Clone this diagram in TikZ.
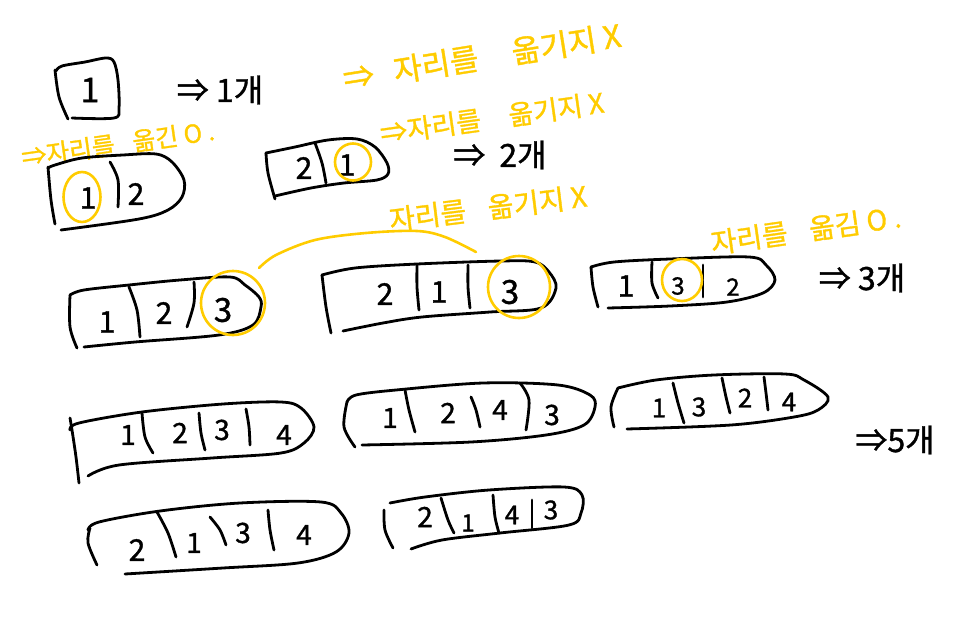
\documentclass[tikz,border=0pt]{standalone}
\usepackage{fontspec}
\setmainfont{Noto Sans CJK KR}
\newfontfamily\handfont[FakeBold=1.2]{Noto Sans CJK KR}
\definecolor{marker}{HTML}{FFCC00}
\tikzset{
  ink/.style={draw=black,line width=2.8pt,line cap=round,line join=round},
  hl/.style={draw=marker,line width=2.6pt,line cap=round,line join=round},
  dig/.style={inner sep=0pt,text=black,font=\handfont\fontsize{#1}{#1}\selectfont},
  dig/.default=30,
  count/.style={inner sep=0pt,text=black,font=\handfont\fontsize{32}{32}\selectfont},
  note/.style={inner sep=0pt,text=marker,font=\handfont\fontsize{#1}{#1}\selectfont},
}
\newcommand{\hand}[2][ink]{\draw[#1] plot[smooth,tension=.55] coordinates {#2};}
\begin{document}
\begin{tikzpicture}[x=1pt,y=-1pt]
\useasboundingbox (0,0) rectangle (971,626);
\fill[white] (0,0) rectangle (971,626);

% one cell
\hand{(56,71)(62,66)(85,62)(106,58)(114,62)(118,80)(119,108)(114,118)(72,118)}
\hand{(55,70)(59,97)(68,119)}
\node[dig=34] (n1) at (90,90) {1};
\node[count] (c1) at (220,90) {⇒ 1개};

% yellow notes
\node[note=31,rotate=9] (y1) at (482,57) {⇒\hspace{20pt}자리를\hspace{34pt}옮기지 X};
\node[note=27,rotate=8] (y2) at (492,118) {⇒자리를\hspace{28pt}옮기지 X};
\node[note=25,rotate=8] (y3) at (118,144) {⇒자리를\hspace{18pt}옮긴 O .};
\node[note=28,rotate=7] (y4) at (488,208) {자리를\hspace{22pt}옮기지 X};
\node[note=28,rotate=8] (y5) at (806,230) {자리를\hspace{22pt}옮김 O .};

% 1 2
\hand{(48,167)(51,200)(55,224)}
\hand{(48,168)(55,165)(82,158)(123,155)(156,154)(172,162)(184,180)(182,197)(168,210)(139,219)(61,230)}
\hand{(110,162)(118,180)(118,207)}
\node[dig] (n12a) at (88,198) {1};
\node[dig] (n12b) at (136,194) {2};
\draw[hl] (82,197) ellipse [x radius=18.5,y radius=25];

% 2 1
\hand{(266,153)(268,173)(275,199)}
\hand{(266,153)(295,147)(328,140)(357,139)(375,147)(387,163)(388,174)(377,180)(344,183)(311,188)(275,196)}
\hand{(315,143)(322,163)(326,183)}
\node[dig] (n21a) at (304,168) {2};
\node[dig] (n21b) at (347,165) {1};
\draw[hl] (353,162) ellipse [x radius=18,y radius=18.5];
\node[count] (c2) at (500,155) {⇒\hspace{14pt}2개};

% 1 2 3
\hand{(70,295)(70,327)(77,348)}
\hand{(70,295)(84,290)(129,285)(180,280)(230,277)(245,285)(259,297)(261,307)(253,325)(219,335)(135,342)(84,347)}
\hand{(129,287)(137,310)(140,337)}
\hand{(194,282)(194,303)(187,327)}
\node[dig] (n123a) at (107,322) {1};
\node[dig] (n123b) at (164,313) {2};
\node[dig=33] (n123c) at (223,310) {3};
\draw[hl] (233,303) ellipse [x radius=32,y radius=32];
\hand[hl]{(259,268)(276,255)(315,240)(366,233)(417,231)(445,237)(476,252)}

% 2 1 3
\hand{(322,275)(326,307)(331,333)}
\hand{(322,275)(355,268)(417,264)(501,261)(535,262)(549,272)(556,288)(541,308)(490,312)(422,317)(383,323)(343,331)}
\hand{(417,265)(417,287)(419,310)}
\hand{(468,265)(468,287)(470,308)}
\node[dig] (n213a) at (385,294) {2};
\node[dig] (n213b) at (439,292) {1};
\node[dig=33] (n213c) at (510,292) {3};
\draw[hl] (519,287) ellipse [x radius=31,y radius=31];

% 1 3 2
\hand{(591,267)(593,287)(598,307)}
\hand{(591,267)(614,262)(670,259)(749,257)(766,265)(775,280)(763,293)(727,302)(670,306)(608,308)}
\hand{(652,262)(652,283)(658,298)}
\hand{(703,265)(703,283)(703,297)}
\node[dig=30] (n132a) at (626,286) {1};
\node[dig=24] (n132b) at (678,286) {3};
\node[dig=24] (n132c) at (733,287) {2};
\draw[hl] (682,280) ellipse [x radius=20,y radius=21];
\node[count] (c3) at (862,278) {⇒ 3개};

% 1 2 3 4
\hand{(70,418)(72,430)(76,457)(79,483)}
\hand{(70,430)(79,423)(142,412)(223,404)(281,402)(301,408)(314,427)(304,443)(281,453)(212,458)(119,465)(88,476)}
\hand{(142,413)(145,437)(153,453)}
\hand{(199,413)(201,433)(205,450)}
\hand{(246,409)(249,427)(250,445)}
\node[dig=28] (n1234a) at (128,435) {1};
\node[dig=28] (n1234b) at (180,433) {2};
\node[dig=28] (n1234c) at (222,430) {3};
\node[dig=28] (n1234d) at (284,435) {4};

% 1 2 4 3
\hand{(347,402)(344,427)(355,447)}
\hand{(347,402)(356,395)(396,390)(483,383)(558,385)(590,395)(595,407)(584,425)(546,435)(471,442)(362,445)}
\hand{(405,390)(409,410)(415,432)}
\hand{(471,397)(476,410)(480,427)}
\hand{(520,383)(529,400)(526,430)}
\node[dig=28] (n1243a) at (390,418) {1};
\node[dig=28] (n1243b) at (448,413) {2};
\node[dig=28] (n1243c) at (500,410) {4};
\node[dig=28] (n1243d) at (552,415) {3};

% 1 3 2 4
\hand{(618,388)(611,407)(614,427)}
\hand{(618,388)(656,380)(714,375)(785,374)(804,380)(828,397)(818,410)(794,417)(731,425)(627,429)}
\hand{(673,383)(678,403)(684,423)}
\hand{(722,378)(726,397)(730,413)}
\hand{(764,377)(766,393)(768,410)}
\node[dig=26] (n1324a) at (659,408) {1};
\node[dig=26] (n1324b) at (699,407) {3};
\node[dig=26] (n1324c) at (745,398) {2};
\node[dig=26] (n1324d) at (789,402) {4};
\node[count] (c5) at (895,440) {⇒5개};

% 2 1 3 4
\hand{(90,528)(88,543)(97,565)}
\hand{(88,530)(99,522)(160,511)(240,503)(321,502)(341,513)(349,533)(336,552)(298,563)(223,568)(125,574)}
\hand{(157,512)(168,533)(176,557)}
\hand{(210,517)(220,530)(226,545)}
\hand{(268,510)(270,530)(274,550)}
\node[dig=30] (n2134a) at (137,550) {2};
\node[dig=28] (n2134b) at (194,543) {1};
\node[dig=28] (n2134c) at (243,533) {3};
\node[dig=28] (n2134d) at (304,535) {4};

% 2 1 4 3
\hand{(384,510)(385,530)(393,548)}
\hand{(390,503)(425,497)(489,490)(564,487)(582,495)(581,513)(569,525)(500,533)(442,540)(411,549)}
\hand{(441,498)(448,520)(454,533)}
\hand{(493,495)(495,517)(499,533)}
\hand{(532,500)(532,513)(532,528)}
\node[dig=28] (n2143a) at (425,517) {2};
\node[dig=24] (n2143b) at (468,523) {1};
\node[dig=26] (n2143c) at (512,515) {4};
\node[dig=26] (n2143d) at (551,510) {3};
\end{tikzpicture}
\end{document}
